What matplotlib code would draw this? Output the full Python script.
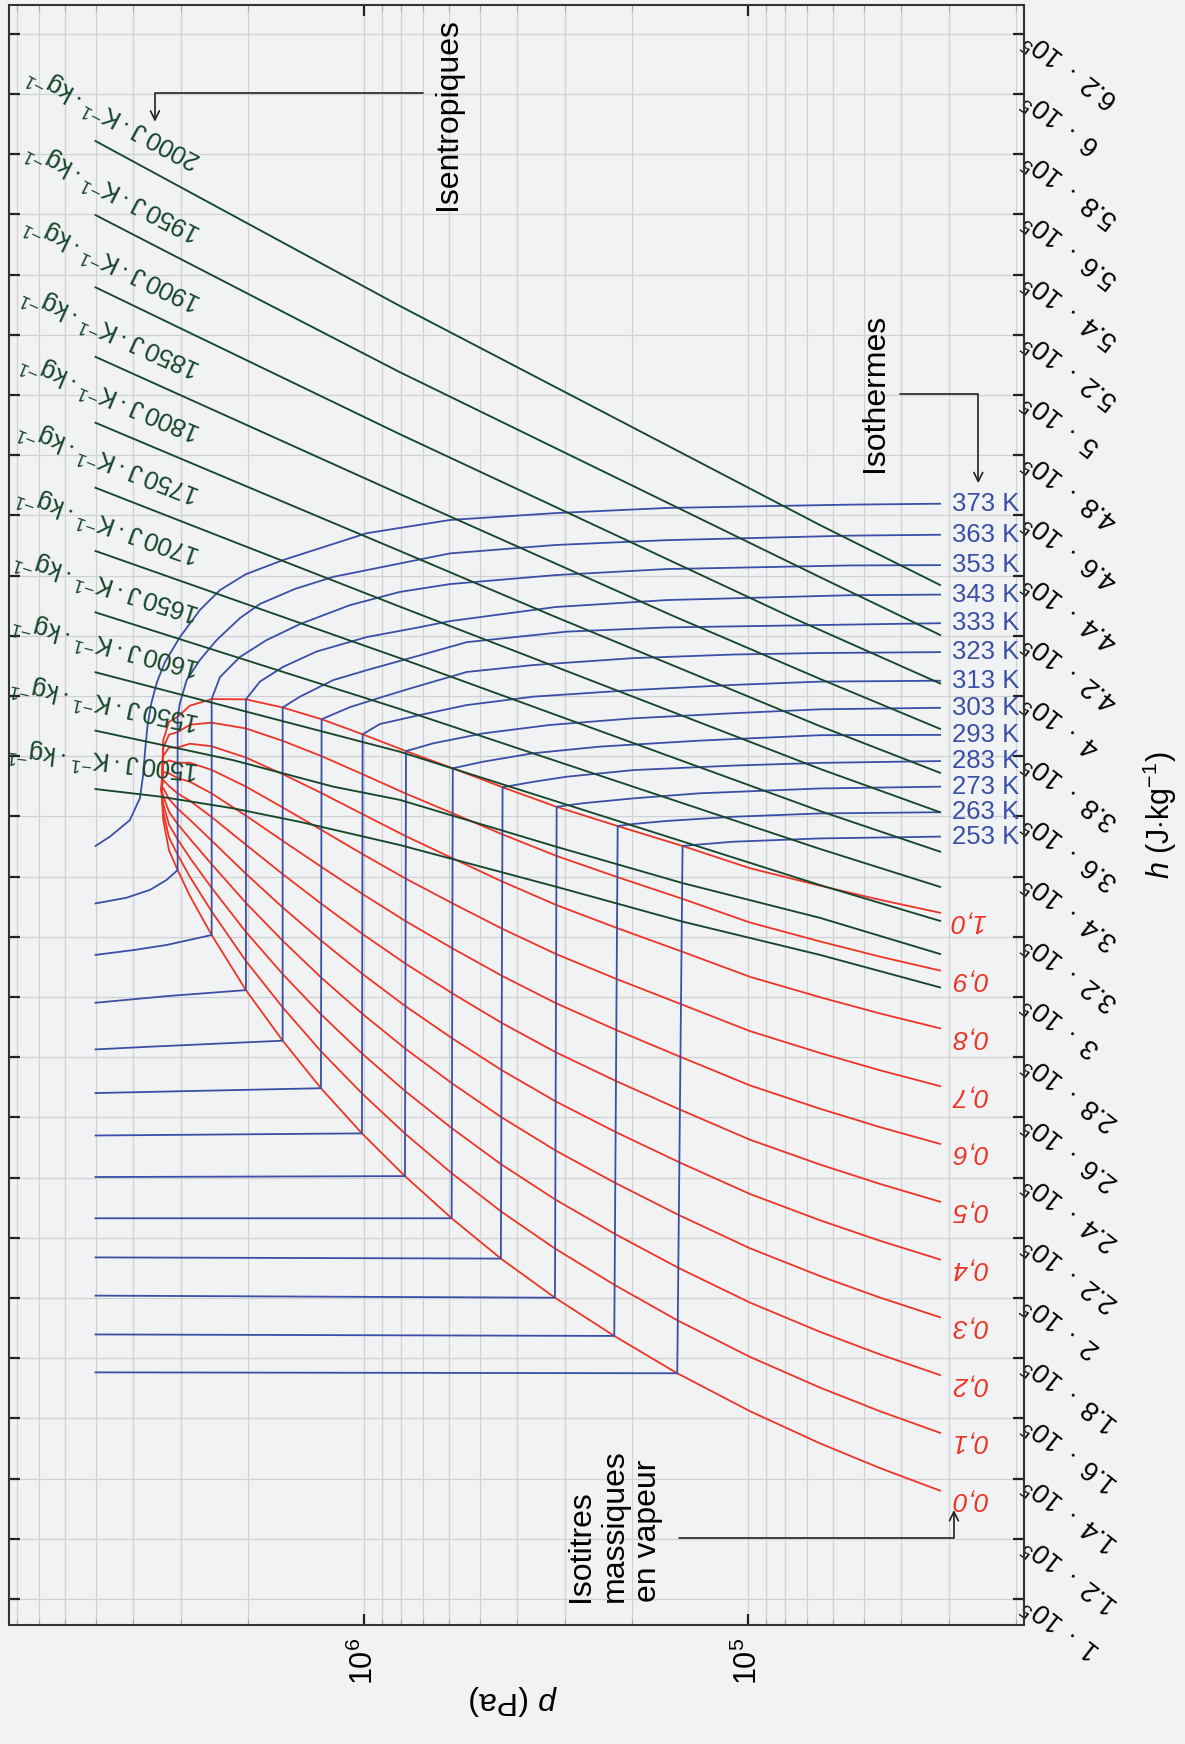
import matplotlib.pyplot as plt
import numpy as np
from matplotlib.ticker import LogLocator, NullFormatter

plt.rcParams['font.family'] = ['Liberation Sans', 'DejaVu Sans']
plt.rcParams['mathtext.fontset'] = 'custom'
plt.rcParams['mathtext.rm'] = 'Liberation Sans'
plt.rcParams['mathtext.it'] = 'Liberation Sans:italic'
plt.rcParams['mathtext.bf'] = 'Liberation Sans:bold'

# ---- isotherms : pressure (Pa) / enthalpy (kJ/kg) along each curve ----
T253_p = [5.0e6, 1.528e5, 1.480e5, 1.334e5, 1.094e5, 6.49e4, 3.16e4]
T253_h = [175.3, 175.0, 350.2, 350.7, 351.6, 352.7, 353.3]
T263_p = [5.0e6, 2.229e5, 2.184e5, 1.990e5, 1.628e5, 1.092e5, 6.49e4, 3.16e4]
T263_h = [187.9, 187.4, 356.8, 357.5, 358.5, 359.9, 361.0, 361.4]
T273_p = [5.0e6, 3.181e5, 3.149e5, 2.686e5, 1.990e5, 1.334e5, 6.49e4, 3.16e4]
T273_h = [200.8, 200.1, 363.2, 364.4, 366.0, 367.7, 369.3, 369.9]
T283_p = [5.0e6, 4.40e5, 4.355e5, 3.624e5, 2.966e5, 1.990e5, 1.092e5, 6.49e4, 3.16e4]
T283_h = [213.5, 213.1, 369.7, 371.5, 373.2, 375.4, 376.9, 377.8, 378.4]
T293_p = [5.0e6, 5.91e5, 5.87e5, 4.89e5, 3.624e5, 2.429e5, 1.334e5, 6.49e4, 3.16e4]
T293_h = [226.5, 226.5, 376.0, 378.2, 381.0, 383.2, 385.2, 387.0, 387.1]
T303_p = [5.0e6, 7.82e5, 7.77e5, 6.60e5, 4.89e5, 3.278e5, 1.990e5, 1.092e5, 6.49e4, 3.16e4]
T303_h = [240.2, 240.5, 381.7, 384.3, 387.6, 390.4, 392.6, 394.3, 395.6, 396.1]
T313_p = [5.0e6, 1.012e6, 1.008e6, 9.09e5, 7.15e5, 5.40e5, 3.624e5, 1.990e5, 1.092e5, 6.49e4, 3.16e4]
T313_h = [254.0, 254.7, 387.3, 390.7, 393.7, 397.0, 399.8, 402.0, 403.7, 404.8, 405.1]
T323_p = [5.0e6, 1.294e6, 1.289e6, 1.088e6, 8.91e5, 7.59e5, 5.40e5, 3.624e5, 1.990e5, 1.092e5, 6.49e4, 3.16e4]
T323_h = [268.1, 269.7, 392.3, 396.3, 399.8, 402.5, 408.0, 410.3, 412.6, 413.8, 414.3, 414.6]
T333_p = [5.0e6, 3.608e6, 1.628e6, 1.628e6, 1.468e6, 1.202e6, 9.84e5, 7.59e5, 5.40e5, 2.966e5, 1.628e5, 6.49e4, 3.16e4]
T333_h = [282.6, 283.5, 285.5, 396.2, 399.8, 405.3, 408.6, 412.6, 417.9, 421.4, 422.8, 423.6, 424.2]
T343_p = [5.0e6, 3.265e6, 2.029e6, 2.029e6, 1.866e6, 1.623e6, 1.328e6, 9.84e5, 7.15e5, 5.97e5, 3.162e5, 1.625e5, 5.43e4, 3.16e4]
T343_h = [298.1, 300.3, 302.3, 398.9, 404.8, 409.7, 414.8, 419.6, 422.9, 424.9, 429.6, 431.9, 433.5, 433.7]
T353_p = [5.0e6, 3.988e6, 3.265e6, 2.492e6, 2.492e6, 2.371e6, 2.103e6, 1.792e6, 1.468e6, 1.088e6, 8.06e5,
          5.97e5, 3.162e5, 1.625e5, 5.43e4, 3.16e4]
T353_h = [314.0, 315.6, 317.3, 320.6, 399.0, 406.3, 413.0, 418.6, 423.9, 430.2, 434.6,
          437.2, 440.2, 442.2, 443.4, 443.5]
T363_p = [5.0e6, 4.150e6, 3.608e6, 3.265e6, 3.056e6, 3.056e6, 3.014e6, 2.895e6, 2.674e6, 2.419e6, 2.103e6,
          1.866e6, 1.512e6, 1.202e6, 5.97e5, 3.162e5, 1.625e5, 5.43e4, 3.16e4]
T363_h = [331.1, 333.0, 335.6, 338.9, 342.2, 393.1, 397.7, 405.3, 412.0, 418.6, 425.9,
          430.6, 435.6, 439.6, 447.4, 450.2, 451.8, 453.3, 453.6]
T373_p = [5.0e6, 4.586e6, 4.069e6, 3.831e6, 3.759e6, 3.714e6, 3.660e6, 3.577e6, 3.460e6, 3.297e6, 3.014e6,
          2.674e6, 2.371e6, 2.029e6, 1.623e6, 9.84e5, 5.97e5, 3.162e5, 1.625e5, 5.43e4, 3.16e4]
T373_h = [350.2, 353.3, 358.8, 366.1, 373.7, 382.0, 390.3, 397.7, 404.6, 411.3, 419.6,
          428.6, 435.2, 440.5, 445.2, 454.1, 458.5, 460.8, 462.5, 463.6, 463.9]

temperatures = [253, 263, 273, 283, 293, 303, 313, 323, 333, 343, 353, 363, 373]

# ---- saturation curve (liquid / vapour ends of each plateau) ----
sat_p_liq = [3.367e6, 3.331e6, 3.219e6, 3.056e6, 2.839e6, 2.492e6, 2.029e6, 1.628e6, 1.294e6,
             1.012e6, 7.82e5, 5.91e5, 4.40e5, 3.181e5, 2.229e5, 1.528e5, 9.88e4, 6.49e4, 4.53e4, 3.16e4]
sat_h_liq = [368.8, 358.8, 348.8, 342.2, 333.6, 320.6, 302.3, 285.5, 269.7,
             254.7, 240.5, 226.5, 213.1, 200.1, 187.4, 175.0, 162.4, 151.7, 143.5, 136.0]
sat_p_vap = [3.367e6, 3.331e6, 3.219e6, 3.056e6, 2.839e6, 2.492e6, 2.029e6, 1.628e6, 1.289e6,
             1.008e6, 7.77e5, 5.87e5, 4.355e5, 3.149e5, 2.184e5, 1.480e5, 9.88e4, 6.49e4, 4.53e4, 3.16e4]
sat_h_vap = [368.8, 385.4, 391.4, 393.1, 396.8, 399.0, 398.9, 396.2, 392.3,
             387.3, 381.7, 376.0, 369.7, 363.2, 356.8, 350.2, 342.8, 337.0, 332.3, 328.0]
qualities = [0.0, 0.1, 0.2, 0.3, 0.4, 0.5, 0.6, 0.7, 0.8, 0.9, 1.0]

# ---- isentropes (J/K/kg) ----
S1500_p = [5.0e6, 3.398e6, 2.190e6, 1.468e6, 8.06e5, 3.149e5, 1.474e5, 6.49e4, 3.16e4]
S1500_h = [369.1, 366.6, 362.7, 358.2, 350.5, 336.6, 325.0, 314.0, 303.2]
S1550_p = [5.0e6, 2.190e6, 1.202e6, 8.06e5, 3.149e5, 1.474e5, 6.49e4, 3.16e4]
S1550_h = [388.5, 378.7, 369.9, 365.5, 349.9, 337.8, 326.3, 314.3]
S1600_p = [5.0e6, 8.06e5, 6.49e4, 3.16e4]
S1600_h = [407.9, 381.5, 337.2, 325.3]
S1650_p = [5.0e6, 8.06e5, 6.49e4, 3.16e4]
S1650_h = [427.8, 395.7, 349.2, 336.6]
S1700_p = [5.0e6, 8.06e5, 6.49e4, 3.16e4]
S1700_h = [448.2, 412.6, 361.8, 348.3]
S1750_p = [5.0e6, 8.06e5, 6.49e4, 3.16e4]
S1750_h = [469.2, 429.7, 375.8, 361.4]
S1800_p = [5.0e6, 8.06e5, 3.214e5, 6.49e4, 3.16e4]
S1800_h = [490.8, 448.2, 426.6, 390.0, 374.5]
S1850_p = [5.0e6, 8.06e5, 1.565e5, 6.49e4, 3.16e4]
S1850_h = [512.7, 467.1, 426.6, 405.7, 389.1]
S1900_p = [5.0e6, 8.06e5, 7.62e4, 3.16e4]
S1900_h = [535.8, 487.0, 425.9, 404.2]
S1950_p = [5.0e6, 8.06e5, 6.49e4, 3.16e4]
S1950_h = [559.8, 507.6, 439.5, 420.3]
S2000_p = [5.0e6, 8.06e5, 6.49e4, 3.16e4]
S2000_h = [584.4, 529.6, 456.8, 436.9]

entropies = [1500, 1550, 1600, 1650, 1700, 1750, 1800, 1850, 1900, 1950, 2000]

h_ticks = [1.0, 1.2, 1.4, 1.6, 1.8, 2.0, 2.2, 2.4, 2.6, 2.8, 3.0, 3.2, 3.4, 3.6, 3.8,
           4.0, 4.2, 4.4, 4.6, 4.8, 5.0, 5.2, 5.4, 5.6, 5.8, 6.0, 6.2]

isotherms = {253: (T253_p, T253_h), 263: (T263_p, T263_h), 273: (T273_p, T273_h),
             283: (T283_p, T283_h), 293: (T293_p, T293_h), 303: (T303_p, T303_h),
             313: (T313_p, T313_h), 323: (T323_p, T323_h), 333: (T333_p, T333_h),
             343: (T343_p, T343_h), 353: (T353_p, T353_h), 363: (T363_p, T363_h),
             373: (T373_p, T373_h)}
isentropes = {1500: (S1500_p, S1500_h), 1550: (S1550_p, S1550_h), 1600: (S1600_p, S1600_h),
              1650: (S1650_p, S1650_h), 1700: (S1700_p, S1700_h), 1750: (S1750_p, S1750_h),
              1800: (S1800_p, S1800_h), 1850: (S1850_p, S1850_h), 1900: (S1900_p, S1900_h),
              1950: (S1950_p, S1950_h), 2000: (S2000_p, S2000_h)}

bg = '#f1f2f4'
blue = '#3a4fa6'
red = '#ee3424'
green = '#17472a'

fig = plt.figure(figsize=(11.85, 17.44), dpi=100, facecolor=bg)
ax = fig.add_axes([0.0076, 0.06823, 0.8565, 0.9289])
ax.set_facecolor(bg)

ax.set_xscale('log')
ax.set_xlim(8.40e6, 1.911e4)
ax.set_ylim(0.9136e5, 6.296e5)

# isotherms
for T in temperatures:
    p, h = isotherms[T]
    h = np.array(h) * 1e3
    ax.plot(p, h, color=blue, lw=1.3, zorder=3, solid_joinstyle='round')
    ax.annotate(f'{T} K', xy=(p[-1], h[-1]), xytext=(8.4, 0), textcoords='offset points',
                ha='left', va='center', color=blue, fontsize=18.5)

# lines of constant vapour quality across the two-phase dome
lp_l = np.log10(sat_p_liq)
lp_v = np.log10(sat_p_vap)
hl = np.array(sat_h_liq) * 1e3
hv = np.array(sat_h_vap) * 1e3
for q in qualities:
    p = 10 ** (lp_l + q * (lp_v - lp_l))
    h = hl + q * (hv - hl)
    ax.plot(p, h, color=red, lw=1.3, zorder=2, solid_joinstyle='round')
    ax.annotate(f'{q:.1f}'.replace('.', ','), xy=(p[-1], h[-1]), xytext=(20.4, -6.5),
                textcoords='offset points', ha='center', va='center', rotation=180,
                color=red, fontsize=19, style='italic')

# isentropes with labels running along their first segment
for s in entropies:
    p, h = isentropes[s]
    h = np.array(h) * 1e3
    ax.plot(p, h, color=green, lw=1.35, zorder=4, solid_joinstyle='round')
    x0, y0 = ax.transData.transform((p[0], h[0]))
    x1, y1 = ax.transData.transform((p[1], h[1]))
    ang = np.arctan2(y1 - y0, x1 - x0)
    ux, uy = np.cos(ang), np.sin(ang)
    nx, ny = -uy, ux
    b = 31
    a = (104 - b * nx) / ux
    dx, dy = (a * ux + b * nx) * 0.72, (a * uy + b * ny) * 0.72
    ax.annotate(rf'${s}\,\mathrm{{J}}\cdot\mathrm{{K}}^{{-1}}\cdot\mathrm{{kg}}^{{-1}}$',
                xy=(p[0], h[0]), xytext=(dx, dy), textcoords='offset points',
                rotation=np.degrees(ang) + 180, rotation_mode='anchor',
                ha='left', va='center', color=green, fontsize=18.5)

# axes, ticks and grid
ax.set_xticks([1e5, 1e6], labels=[r'$10^{5}$', r'$10^{6}$'], rotation=90, fontsize=22)
ax.xaxis.set_minor_locator(LogLocator(base=10, subs=np.arange(2, 10), numticks=50))
ax.xaxis.set_minor_formatter(NullFormatter())
ax.set_yticks(np.array(h_ticks) * 1e5,
              labels=[rf'${v:g}\ \cdot\ 10^{{5}}$' for v in h_ticks],
              rotation=142, ha='right', va='center', rotation_mode='anchor', fontsize=19.5)
ax.tick_params(axis='both', which='both', direction='in', top=True, bottom=True,
               left=True, right=True, labelleft=False, labelright=True)
ax.tick_params(axis='both', which='major', length=8, width=1.6, color='#222222')
ax.tick_params(axis='x', which='major', pad=9)
ax.tick_params(axis='y', which='major', pad=3)
ax.tick_params(axis='x', which='minor', length=4, width=0.8, color='#aaaaaa')
ax.grid(True, which='major', color='#d0d1d4', lw=0.9, zorder=0)
ax.grid(True, which='minor', axis='x', color='#d0d1d4', lw=0.9, zorder=0)
ax.set_axisbelow(True)
for sp in ax.spines.values():
    sp.set_color('#333333')
    sp.set_linewidth(1.5)

ax.set_xlabel(r'$p$ (Pa)', fontsize=23, rotation=180)
ax.xaxis.set_label_coords(0.497, -0.046)
ax.xaxis.label.set_va('center')
ax.yaxis.set_label_position('right')
ax.set_ylabel(r'$h$ (J$\cdot$kg$^{-1}$)', fontsize=22, rotation=90)
ax.yaxis.set_label_coords(1.134, 0.5)
ax.yaxis.label.set_va('center')

# callouts
arrow_kw = dict(arrowstyle='->', color='#222222', lw=1.2, shrinkA=0, shrinkB=0,
                mutation_scale=16, connectionstyle='angle,angleA=0,angleB=90,rad=0')
ax.text(0.4325, 0.9327, 'Isentropiques', transform=ax.transAxes, rotation=90,
        ha='center', va='center', fontsize=23)
ax.annotate('', xy=(0.1438, 0.9280), xytext=(0.4079, 0.9455), xycoords='axes fraction',
            arrowprops=arrow_kw)
ax.text(0.8532, 0.7605, 'Isothermes', transform=ax.transAxes, rotation=90,
        ha='center', va='center', fontsize=23)
ax.annotate('', xy=(0.9550, 0.7048), xytext=(0.8778, 0.7597), xycoords='axes fraction',
            arrowprops=arrow_kw)
ax.text(0.5970, 0.0142, 'Isotitres\nmassiques\nen vapeur', transform=ax.transAxes,
        rotation=90, ha='center', va='bottom', multialignment='left', linespacing=1.15,
        fontsize=23)
ax.annotate('', xy=(0.9310, 0.0710), xytext=(0.6601, 0.0535), xycoords='axes fraction',
            arrowprops=arrow_kw)

fig.savefig('out.png', dpi=100, facecolor=bg)
